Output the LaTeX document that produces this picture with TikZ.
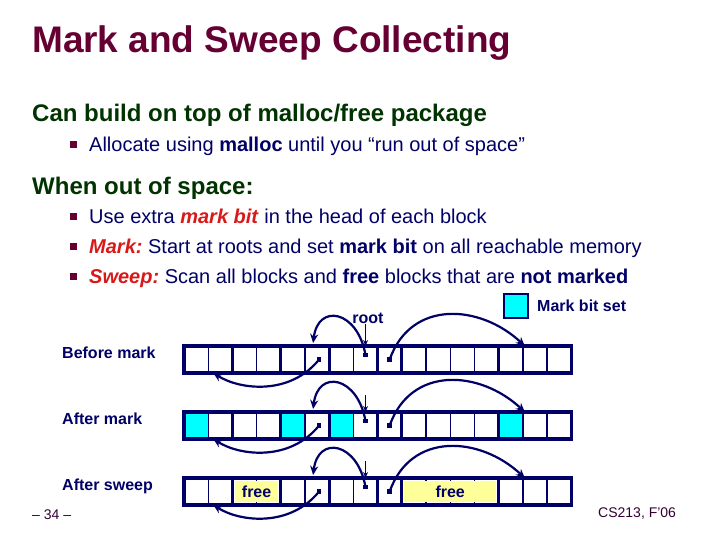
\documentclass[tikz,border=0pt]{standalone}
\usepackage{fontspec}
\setmainfont{Liberation Sans}
\usepackage{tikz}
\usetikzlibrary{positioning, arrows.meta, calc}

\definecolor{inknavy}{RGB}{0,0,102}
\definecolor{titlered}{RGB}{102,0,51}
\definecolor{headgreen}{RGB}{0,51,0}
\definecolor{hotred}{RGB}{215,25,25}
\definecolor{markcyan}{RGB}{0,255,255}
\definecolor{freeyellow}{RGB}{255,255,153}
\definecolor{footink}{RGB}{51,0,51}

\newcommand{\pxsize}[1]{\fontsize{#1}{#1}\selectfont}
\newcommand{\hot}[1]{\textcolor{hotred}{\textbf{\textit{#1}}}}

\begin{document}
\begin{tikzpicture}[x=1pt, y=1pt,
  txt/.style={anchor=base west, inner sep=0pt, text=inknavy, font=\pxsize{20}},
  head/.style={anchor=base west, inner sep=0pt, text=headgreen, font=\pxsize{24}\bfseries},
  bullet/.style={fill=titlered, minimum size=7pt, inner sep=0pt},
  rowlabel/.style={anchor=base west, inner sep=0pt, text=inknavy, font=\pxsize{16}\bfseries},
  cellbox/.style={draw=inknavy, line width=1.4pt, fill=white, minimum width=24.2pt,
    minimum height=27pt, inner sep=0pt, outer sep=0pt},
  blockline/.style={draw=inknavy, line width=2.7pt},
  rowline/.style={draw=inknavy, line width=3.4pt},
  dotbox/.style={fill=inknavy, minimum size=4.5pt, inner sep=0pt},
  ptr/.style={draw=inknavy, line width=2.2pt, -{Stealth[length=9pt,width=8pt]}},
  rootarr/.style={draw=inknavy, line width=1.2pt, -{Stealth[length=6pt,width=5pt]}}]
\useasboundingbox (0,0) rectangle (720,540);

% Title and text
\node[anchor=base west, inner sep=0pt, text=titlered, font=\pxsize{37}\bfseries] (title) at (32,487) {Mark and Sweep Collecting};
\node[head] (h1) at (32,418.5) {Can build on top of malloc/free package};
\node[bullet] (b1) at (73.5,395) {};
\node[txt] (t1) at (89,388) {Allocate using \textbf{malloc} until you “run out of space”};
\node[head] (h2) at (32,345.5) {When out of space:};
\node[bullet] (b2) at (73.5,323) {};
\node[txt] (t2) at (89,316) {Use extra \hot{mark bit} in the head of each block};
\node[bullet] (b3) at (73.5,293) {};
\node[txt] (t3) at (89,286) {\hot{Mark:}\ Start at roots and set \textbf{mark bit} on all reachable memory};
\node[bullet] (b4) at (73.5,263) {};
\node[txt] (t4) at (89,256) {\hot{Sweep:}\ Scan all blocks and \textbf{free} blocks that are \textbf{not marked}};

% Legend
\node[draw=inknavy, line width=2.5pt, fill=markcyan, minimum size=24pt, inner sep=0pt] (legend) at (516,234) {};
\node[rowlabel] (legendtext) at (537,228.5) {Mark bit set};

% Row labels
\node[rowlabel] (lbl1) at (62,181) {Before mark};
\node[rowlabel] (lbl2) at (62,115) {After mark};
\node[rowlabel] (lbl3) at (62,49) {After sweep};

% Heap rows
\foreach \r/\y in {1/180.5, 2/114.5, 3/48.5}
  \foreach \i in {0,...,15}
    \node[cellbox] (c\r-\i) at (196.1+24.2*\i, \y) {};

% Mark bits
\foreach \i in {0,4,6,13}
  \node[cellbox, fill=markcyan] (m\i) at (c2-\i) {};

% Freed blocks
\fill[freeyellow] ($(c3-2.north west)+(2.5,-3)$) rectangle ($(c3-3.south east)+(-2.5,3)$);
\fill[freeyellow] ($(c3-9.north west)+(2.5,-3)$) rectangle ($(c3-12.south east)+(-2.5,3)$);
\node[font=\pxsize{16}\bfseries, text=inknavy] (free1) at ($(c3-2)!0.5!(c3-3)$) {free};
\node[font=\pxsize{16}\bfseries, text=inknavy] (free2) at ($(c3-9)!0.5!(c3-12)$) {free};

% Block outlines
\foreach \r in {1,2,3} {
  \foreach \a/\b in {0/1,2/3,4/5,6/7,8/8,9/12,13/15}
    \draw[blockline] (c\r-\a.north west) rectangle (c\r-\b.south east);
  \draw[rowline] (c\r-0.north west) rectangle (c\r-15.south east);
}

% Pointers
\node[rowlabel, anchor=base] (root) at (368,216.5) {root};
\coordinate (top2) at ([yshift=17pt]c2-7.north);
\coordinate (top3) at ([yshift=17pt]c3-7.north);
\draw[rootarr] (c1-7.north |- root.south) -- (c1-7.north);
\draw[rootarr] (top2) -- (c2-7.north);
\draw[rootarr] (top3) -- (c3-7.north);
\foreach \r in {1,2,3} {
  \node[dotbox] (d\r-5) at ([xshift=2pt]c\r-5) {};
  \node[dotbox] (d\r-7) at ([yshift=4.5pt]c\r-7) {};
  \node[dotbox] (d\r-8) at (c\r-8) {};
  \draw[ptr] (d\r-7.center) .. controls +(-8,45) and +(5,40) .. ([xshift=-4pt,yshift=3pt]c\r-5.north);
  \draw[ptr] (d\r-8.center) .. controls +(21,60) and +(-45,42) .. ([xshift=2pt]c\r-14.north west);
  \draw[ptr] (d\r-5.center) .. controls +(-29,-36) and +(27,-17) .. ([xshift=-7pt]c\r-1.south);
}

% Footer
\node[anchor=base west, inner sep=0pt, text=footink, font=\pxsize{14}] (page) at (32,20) {– 34 –};
\node[anchor=base west, inner sep=0pt, text=footink, font=\pxsize{14}] (course) at (598,22) {CS213, F’06};
\end{tikzpicture}
\end{document}
